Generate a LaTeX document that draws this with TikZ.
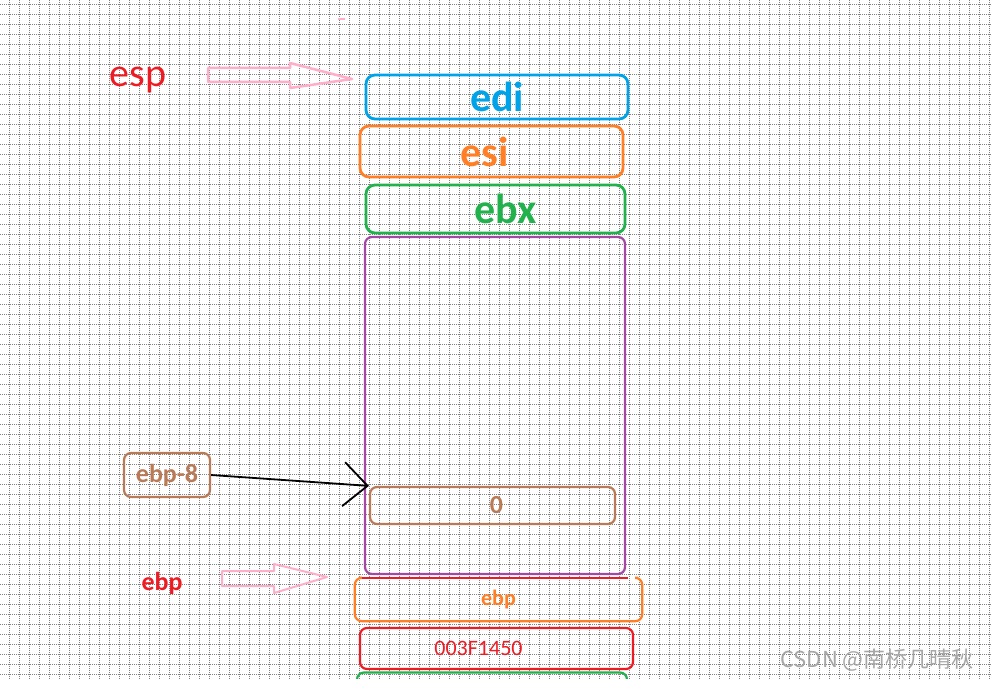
\documentclass[tikz,border=0pt]{standalone}
\usepackage{fontspec}
\setmainfont{Carlito}
\newfontfamily\cjk{Noto Sans CJK SC}
\usetikzlibrary{positioning, arrows.meta}
\definecolor{paintblue}{HTML}{00A2E8}
\definecolor{paintorange}{HTML}{FF7F27}
\definecolor{paintgreen}{HTML}{22B14C}
\definecolor{paintpurple}{HTML}{A349A4}
\definecolor{paintbrown}{HTML}{B97A57}
\definecolor{paintred}{HTML}{ED1C24}
\definecolor{paintpink}{HTML}{FFAEC9}

\begin{document}
\begin{tikzpicture}[
        x=1pt, y=-1pt,
        gridline/.style={black!50, line width=0.7pt, dash pattern=on 1pt off 1pt},
        slot/.style={draw, line width=2.8pt, rounded corners=9pt, inner sep=0pt},
        regname/.style={inner sep=0pt},
        pointer/.style={draw=paintpink, line width=2.5pt, line join=round},
        bigfont/.style={font=\bfseries\fontsize{42}{42}\selectfont},
        midfont/.style={font=\bfseries\fontsize{26}{26}\selectfont}
        ]
        \clip (0,0) rectangle (992,679);
        \fill[white] (0,0) rectangle (992,679);
        % Grid paper
        \foreach \gx in {9,19,...,989} \draw[gridline] (\gx,0) -- (\gx,679);
        \foreach \gy in {4,14,...,674} \draw[gridline] (0,\gy) -- (992,\gy);

        % Stack slots
        \node[slot, bigfont, draw=paintblue, text=paintblue, minimum width=262pt, minimum height=44pt] (edi) at (497,97) {edi};
        \node[slot, bigfont, draw=paintorange, text=paintorange, minimum width=263pt, minimum height=51pt] (esi) at (491.5,151.5) {esi\hspace*{14pt}};
        \node[slot, bigfont, draw=paintgreen, text=paintgreen, minimum width=259pt, minimum height=48pt] (ebx) at (495.5,209) {\hspace*{20pt}ebx};
        \node[slot, draw=paintpurple, line width=2.2pt, rounded corners=7pt, minimum width=260pt, minimum height=337pt] (frame) at (495,405.5) {};
        \node[slot, midfont, draw=paintbrown, text=paintbrown, line width=2.2pt, rounded corners=7pt, minimum width=245pt, minimum height=37pt] (zero) at (492.5,505.5) {\hspace*{8pt}0};
        \node[regname, text=paintorange, font=\bfseries\fontsize{22}{22}\selectfont, minimum width=287pt, minimum height=43pt] (ebpslot) at (498.5,599.5) {ebp};
        \node[slot, draw=paintred, text=paintred, line width=2.2pt, rounded corners=7pt, minimum width=273pt, minimum height=41pt, font=\fontsize{22}{22}\selectfont] (addr) at (496.5,648.5) {003F1450\hspace*{36pt}};
        \node[slot, draw=paintgreen, line width=2.2pt, rounded corners=7pt, minimum width=270pt, minimum height=55pt] (nextslot) at (492,700) {};

        % Open-topped ebp slot and the red mark under the frame
        \draw[paintorange, line width=2.2pt, rounded corners=7pt] ([xshift=4pt]ebpslot.north west) -- (ebpslot.north west) -- (ebpslot.south west) -- (ebpslot.south east) -- (ebpslot.north east) -- ([xshift=-4pt]ebpslot.north east);
        \draw[paintred, line width=1.5pt] ([xshift=-2pt, yshift=-3pt]frame.south west) -- ([xshift=2pt, yshift=-3pt]frame.south east);

        % Register names
        \node[regname, text=paintred, font=\fontsize{40}{40}\selectfont] (esp) at (138,80) {esp};
        \node[regname, midfont, text=paintred] (ebp) at (162,583) {ebp};
        \node[slot, midfont, draw=paintbrown, text=paintbrown, line width=2.2pt, rounded corners=7pt, minimum width=86pt, minimum height=44pt] (ebp8) at (167,475) {ebp-8};

        % Pointers
        \draw[pointer] (208,68) -- (290,68) -- (290,63) -- (352,79) -- (290,88) -- (290,82) -- (208,82) -- cycle;
        \draw[pointer, line width=2pt] (222,571) -- (274,571) -- (274,564) -- (327,577) -- (274,593) -- (274,586) -- (222,586) -- cycle;
        \draw[paintpink, line width=1.5pt] (338,19) -- (345,19);
        \draw[-{Straight Barb[length=24pt, width=44pt]}, line width=1.8pt] (ebp8.east) -- (zero.north west);

        % Watermark
        \node[regname, text=black!35, font=\cjk\fontsize{22}{22}\selectfont] (mark) at (877,660) {CSDN @南桥几晴秋};
    \end{tikzpicture}
\end{document}
